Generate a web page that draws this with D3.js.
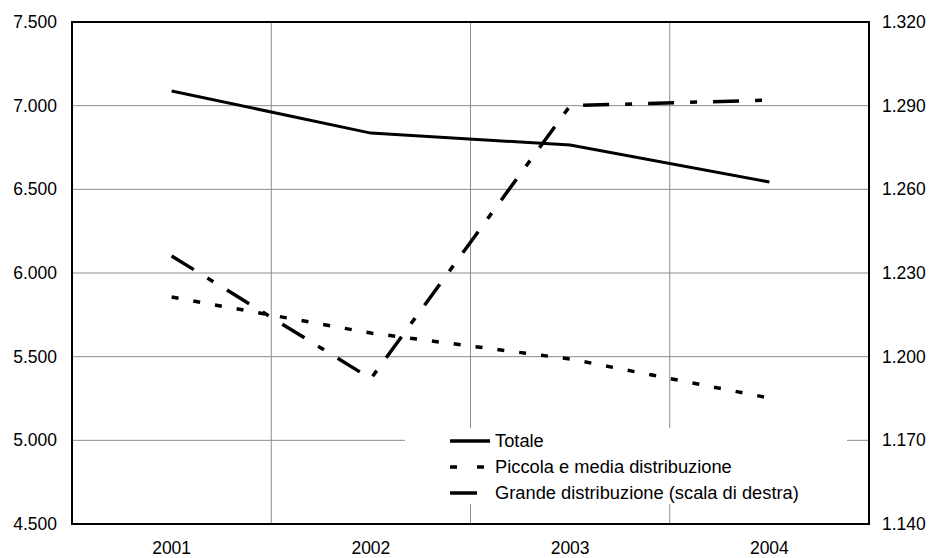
<!DOCTYPE html>
<html><head><meta charset="utf-8">
<script src="https://cdn.jsdelivr.net/npm/d3@7"></script>
<style>
body{margin:0;background:#fff;}
text{font-family:"Liberation Sans",Arial,sans-serif;fill:#000;}
</style></head>
<body><svg id="c" width="930" height="558"></svg>
<script>
const years = ["2001","2002","2003","2004"];
const totale = [7.088, 6.836, 6.765, 6.544];
const piccola = [5.856, 5.641, 5.486, 5.253];
const grande = [1.2361, 1.1921, 1.2900, 1.2920];
const leftTicks = [4.5,5.0,5.5,6.0,6.5,7.0,7.5];
const rightTicks = [1.14,1.17,1.20,1.23,1.26,1.29,1.32];
const seriesNames = ["Totale","Piccola e media distribuzione","Grande distribuzione (scala di destra)"];

const svg = d3.select("#c");
const W = 930, H = 558;
const m = {l:72, r:W-869, t:22, b:H-524};
const FS = 17.5, LFS = 18.3;
const x = d3.scaleBand().domain(years).range([m.l, W-m.r]).padding(0);
const yL = d3.scaleLinear().domain([4.5,7.5]).range([H-m.b, m.t]);
const yR = d3.scaleLinear().domain([1.14,1.32]).range([H-m.b, m.t]);
const fmt = v => d3.format(".3f")(v);

// gridlines
const g = svg.append("g");
g.selectAll("line.h").data(leftTicks.slice(1,-1)).join("line")
  .attr("x1", m.l).attr("x2", W-m.r).attr("y1", d=>yL(d)).attr("y2", d=>yL(d))
  .attr("stroke","#8c8c8c").attr("stroke-width",1);
g.selectAll("line.v").data(years.slice(1)).join("line")
  .attr("x1", d=>x(d)).attr("x2", d=>x(d)).attr("y1", m.t).attr("y2", H-m.b)
  .attr("stroke","#8c8c8c").attr("stroke-width",1);

// axes (labels only)
const axL = d3.axisLeft(yL).tickValues(leftTicks).tickFormat(fmt).tickSize(0).tickPadding(15);
const axR = d3.axisRight(yR).tickValues(rightTicks).tickFormat(fmt).tickSize(0).tickPadding(13);
const axB = d3.axisBottom(x).tickSize(0).tickPadding(18);
function style(sel){ sel.select(".domain").remove(); sel.selectAll("text").attr("font-size",FS).style("font-family","'Liberation Sans',Arial,sans-serif"); }
svg.append("g").attr("transform",`translate(${m.l},0)`).call(axL).call(style);
svg.append("g").attr("transform",`translate(${W-m.r},0)`).call(axR).call(style);
svg.append("g").attr("transform",`translate(0,${H-m.b})`).call(axB).call(style);

// legend background
const lg = svg.append("g");
lg.append("rect").attr("x",405).attr("y",428).attr("width",442).attr("height",76).attr("fill","#fff");

// lines
const cx = d => x(d) + x.bandwidth()/2;
const lineL = d3.line().x((d,i)=>cx(years[i])).y(d=>yL(d));
const lineR = d3.line().x((d,i)=>cx(years[i])).y(d=>yR(d));
svg.append("path").attr("d", lineL(totale)).attr("fill","none").attr("stroke","#000").attr("stroke-width",3);
svg.append("path").attr("d", lineL(piccola)).attr("fill","none").attr("stroke","#000").attr("stroke-width",3.5).attr("stroke-dasharray","7,15");
svg.append("path").attr("d", lineR(grande)).attr("fill","none").attr("stroke","#000").attr("stroke-width",3.5).attr("stroke-dasharray","26,16,7,16");

// frame
svg.append("rect").attr("x",m.l).attr("y",m.t).attr("width",W-m.r-m.l).attr("height",H-m.b-m.t)
  .attr("fill","none").attr("stroke","#000").attr("stroke-width",2);

// legend entries
const rows = [441, 467, 493];
const dashes = [null, "7,20", null];
const ends = [490, 484, 477];
seriesNames.forEach((n,i)=>{
  lg.append("line").attr("x1",450).attr("x2",ends[i]).attr("y1",rows[i]).attr("y2",rows[i])
    .attr("stroke","#000").attr("stroke-width",3.5).attr("stroke-dasharray",dashes[i]);
  lg.append("text").attr("x",495).attr("y",rows[i]).attr("dy","0.35em").attr("font-size",LFS).text(n);
});
</script></body></html>
